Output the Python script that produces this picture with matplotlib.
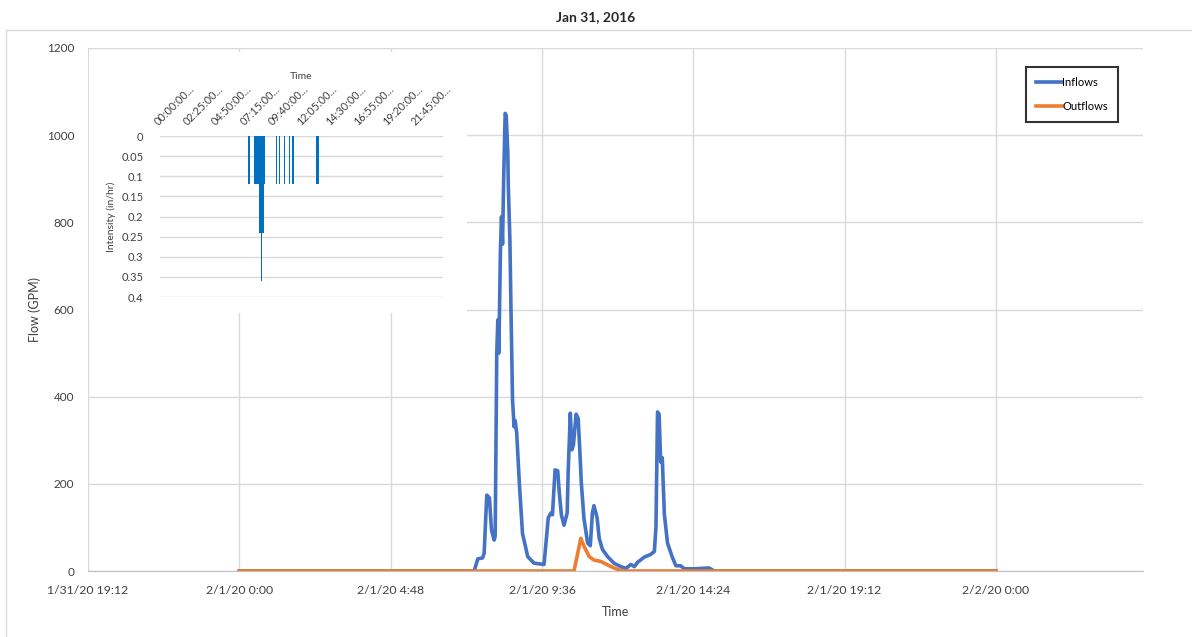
import datetime

import numpy as np
import matplotlib
matplotlib.use('Agg')
import matplotlib.pyplot as plt
from matplotlib.patches import Rectangle

plt.rcParams['font.family'] = ['Lato', 'DejaVu Sans']

# 数据
day0 = datetime.datetime(2020, 2, 1)

inflow_time = ['00:00', '07:27', '07:34', '07:43', '07:46', '07:51', '07:56', '08:00', '08:05', '08:07',
               '08:10', '08:12', '08:14', '08:17', '08:19', '08:21', '08:23', '08:26', '08:28', '08:31',
               '08:32', '08:35', '08:37', '08:40', '08:43', '08:45', '08:48', '08:53', '08:59', '09:09',
               '09:21', '09:40', '09:48', '09:53', '09:56', '10:01', '10:06', '10:09', '10:13', '10:18',
               '10:24', '10:26', '10:30', '10:33', '10:36', '10:41', '10:45', '10:48', '10:51', '10:56',
               '11:03', '11:08', '11:12', '11:15', '11:21', '11:25', '11:31', '11:41', '11:53', '12:06',
               '12:16', '12:25', '12:32', '12:38', '12:51', '13:03', '13:10', '13:13', '13:16', '13:19',
               '13:22', '13:25', '13:29', '13:35', '13:44', '13:51', '14:00', '14:07', '14:26', '14:54',
               '15:04', '24:00']
inflow = [0, 0, 28, 30, 41, 174, 168, 94, 71, 80,
          500, 576, 500, 737, 813, 750, 890, 1050, 1045, 960,
          882, 760, 606, 393, 331, 345, 316, 201, 86, 33,
          18, 15, 122, 133, 129, 232, 230, 180, 129, 105,
          133, 230, 362, 278, 290, 360, 350, 278, 201, 120,
          64, 58, 133, 150, 122, 75, 50, 33, 18, 10,
          6, 15, 10, 20, 32, 38, 45, 100, 365, 360,
          250, 260, 130, 64, 32, 12, 12, 5, 5, 7,
          0, 0]

outflow_time = ['00:00', '10:37', '10:44', '10:50', '10:56', '11:06', '11:15', '11:28', '11:41', '11:53',
                '12:09', '24:00']
outflow = [0, 0, 40, 75, 57, 33, 25, 22, 14, 7, 0, 0]

# 降雨强度 (5分钟一格)
rain_time = ['07:30', '08:00', '08:10', '08:15', '08:20', '08:25', '08:30', '08:35', '08:40', '08:45',
             '08:50', '09:50', '10:05', '10:30', '10:55', '11:15', '13:15', '13:20', '13:25']
rain = [0.12, 0.12, 0.12, 0.12, 0.12, 0.24, 0.24, 0.36, 0.24, 0.24,
        0.12, 0.12, 0.12, 0.12, 0.12, 0.12, 0.12, 0.12, 0.12]
rain_ticklabels = ['00:00:00...', '02:25:00...', '04:50:00...', '07:15:00...', '09:40:00...',
                   '12:05:00...', '14:30:00...', '16:55:00...', '19:20:00...', '21:45:00...']


def to_dt(s):
    h, m = s.split(':')
    return day0 + datetime.timedelta(hours=int(h), minutes=int(m))


t_in = [to_dt(s) for s in inflow_time]
t_out = [to_dt(s) for s in outflow_time]

rain_all = np.zeros(288)
for s, v in zip(rain_time, rain):
    h, m = s.split(':')
    rain_all[(int(h) * 60 + int(m)) // 5] = v

# 画图
fig = plt.figure(figsize=(11.92, 6.37), dpi=100)
W, H = 1192, 637

grid_c = '#D9D9D9'
txt_c = '#404040'

ax = fig.add_axes([88 / W, 1 - 571 / H, (1143 - 88) / W, (571 - 48) / H])
ax.plot(t_in, inflow, color='#4472C4', lw=2.6, label='Inflows')
ax.plot(t_out, outflow, color='#ED7D31', lw=2.6, label='Outflows')

x_start = datetime.datetime(2020, 1, 31, 19, 12)
xticks = [x_start + datetime.timedelta(hours=4.8 * i) for i in range(7)]
ax.set_xlim(x_start, datetime.datetime(2020, 2, 2, 4, 40))
ax.set_xticks(xticks)
ax.set_xticklabels([f"{d.month}/{d.day}/{d:%y} {d.hour}:{d.minute:02d}" for d in xticks],
                   fontsize=8.8, color=txt_c)
ax.set_ylim(0, 1200)
ax.set_yticks(range(0, 1201, 200))
ax.tick_params(axis='y', labelsize=8.5, colors=txt_c, length=0, pad=10)
ax.tick_params(axis='x', length=0, pad=10)
ax.grid(True, color=grid_c, lw=1)
ax.set_axisbelow(True)
for s in ['top', 'right', 'left']:
    ax.spines[s].set_visible(False)
ax.spines['bottom'].set_color('#BFBFBF')
ax.set_xlabel('Time', fontsize=9, color=txt_c, labelpad=7)
ax.set_ylabel('Flow (GPM)', fontsize=9, color=txt_c, labelpad=4)

leg = ax.legend(loc='upper right', bbox_to_anchor=(0.976, 0.964), borderaxespad=0,
                fontsize=8, handlelength=2.3, handletextpad=0.0, frameon=True,
                fancybox=False, borderpad=0.9, labelspacing=1.2)
leg.get_frame().set_edgecolor('black')
leg.get_frame().set_linewidth(1.5)

fig.text(0.5, 1 - 17 / H, 'Jan 31, 2016', ha='center', va='center', fontsize=10,
         fontweight='bold', color='#262626')

# 外框
fig.patches.append(Rectangle((6 / W, -0.1), 1.2, 1 - 30 / H + 0.1, transform=fig.transFigure,
                             fill=False, edgecolor=grid_c, lw=1, zorder=0.5))
# 小图背景
fig.patches.append(Rectangle((89 / W, 1 - 313 / H), (467 - 89) / W, (313 - 52) / H,
                             transform=fig.transFigure, facecolor='white', edgecolor='none', zorder=1))

# 小图: 降雨强度
ax2 = fig.add_axes([160 / W, 1 - 297 / H, (443 - 160) / W, (297 - 136) / H], zorder=2)
ax2.patch.set_alpha(0)
ax2.bar(np.arange(288), rain_all, width=1.4, color='#0070C0', linewidth=0)
ax2.set_xlim(-0.5, 287.5)
ax2.set_ylim(0.4, 0)
ax2.set_yticks(np.arange(0, 0.41, 0.05))
ax2.set_yticklabels(['0', '0.05', '0.1', '0.15', '0.2', '0.25', '0.3', '0.35', '0.4'])
ax2.xaxis.tick_top()
ax2.xaxis.set_label_position('top')
ax2.set_xticks(np.arange(0, 288, 29))
ax2.set_xticklabels(rain_ticklabels, rotation=45, ha='left', va='bottom',
                    rotation_mode='anchor', fontsize=7.8, color=txt_c)
ax2.tick_params(axis='x', length=0, pad=6)
ax2.tick_params(axis='y', length=0, labelsize=8, colors=txt_c, pad=12)
ax2.grid(True, axis='y', color=grid_c, lw=1)
ax2.set_axisbelow(True)
for s in ax2.spines.values():
    s.set_visible(False)
ax2.set_xlabel('Time', fontsize=7.5, color=txt_c, labelpad=3)
ax2.set_ylabel('Intensity (in/hr)', fontsize=7.5, color=txt_c, labelpad=4)

plt.savefig('out.png', dpi=100)
